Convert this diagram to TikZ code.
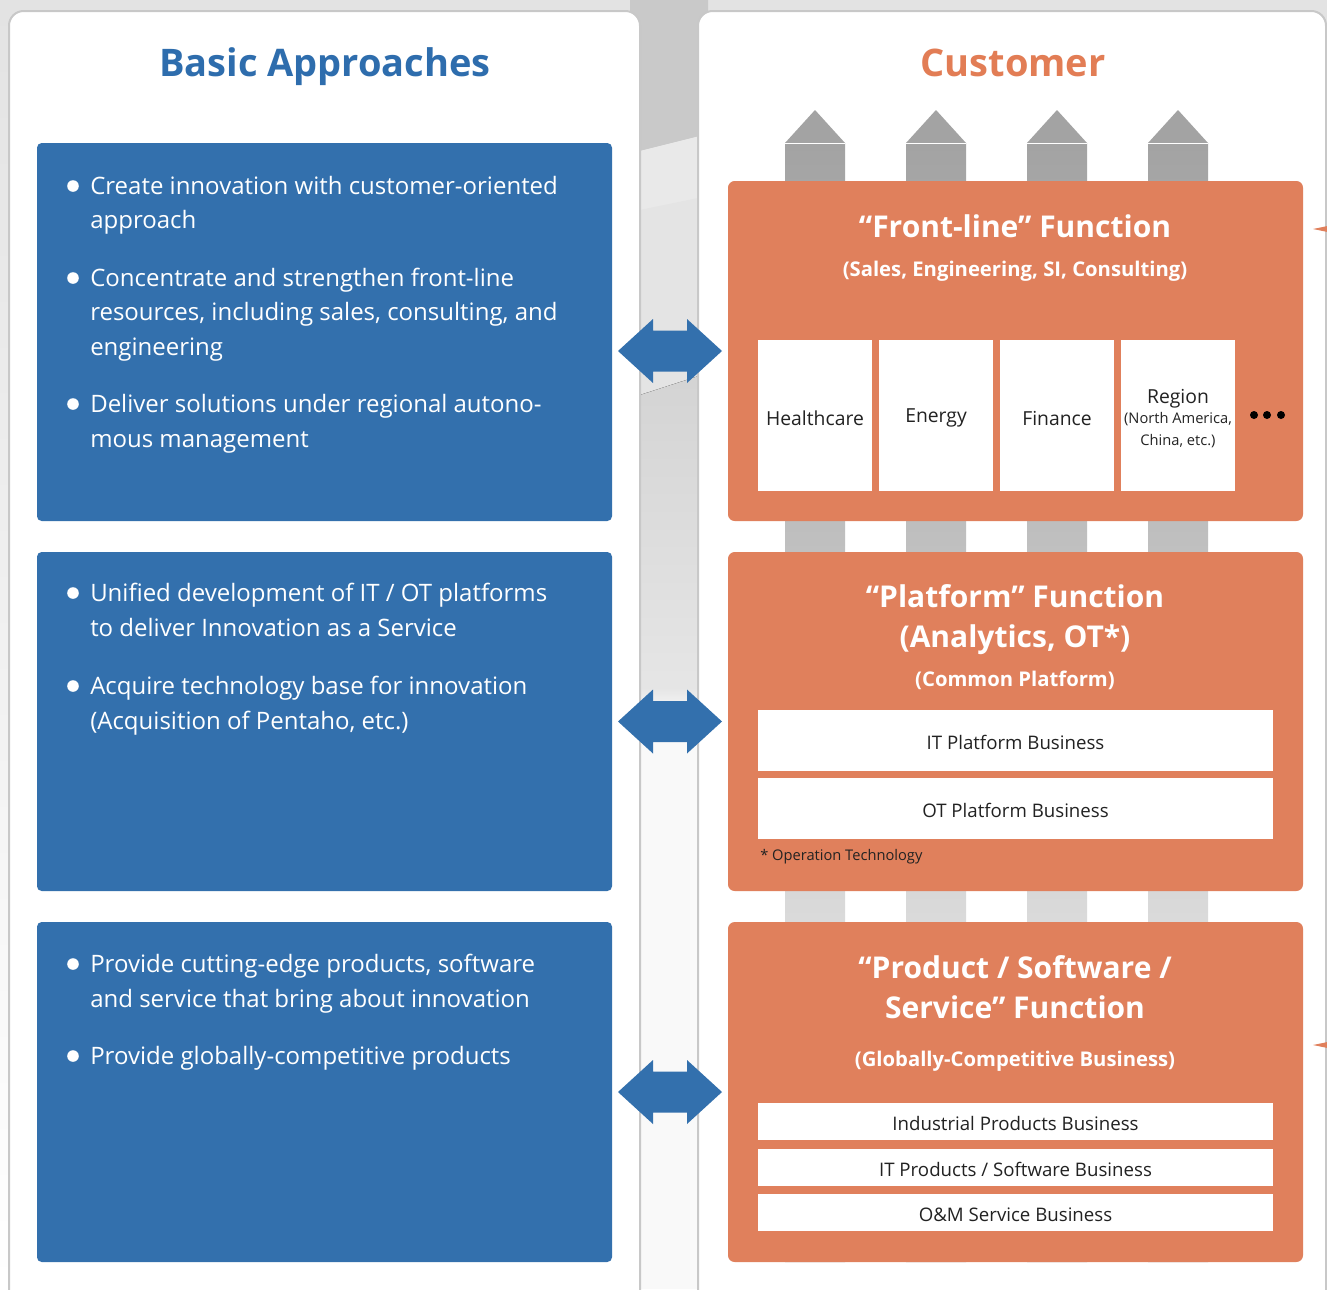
\documentclass[tikz,border=0pt]{standalone}
\usepackage{fontspec}
\setmainfont{Open Sans}
\usetikzlibrary{calc}
\definecolor{cblue}{HTML}{3370AD}
\definecolor{corange}{HTML}{E0805C}
\definecolor{ctblue}{HTML}{2E6DAD}
\definecolor{ctorange}{HTML}{E27D55}
\definecolor{chead}{HTML}{A3A3A3}
\definecolor{cdark}{HTML}{222222}
\definecolor{cpanel}{HTML}{C8C8C8}
\tikzset{
  bluebox/.style={fill=cblue, rounded corners=3.5pt, inner sep=0pt, minimum width=431.25pt},
  orbox/.style={fill=corange, rounded corners=5pt, inner sep=0pt, minimum width=431.25pt},
  tile/.style={fill=white, inner sep=0pt, minimum width=85.5pt, minimum height=113.25pt},
  tiletext/.style={text=cdark, font=\fontsize{14.5}{17}\selectfont, align=center, inner sep=0pt},
  bar/.style={fill=white, inner sep=0pt, minimum width=386.25pt},
  bartext/.style={text=cdark, font=\fontsize{14}{17}\selectfont, inner sep=0pt},
  body/.style={text=white, font=\fontsize{18}{21}\selectfont, anchor=base west, inner sep=0pt},
  otitle/.style={text=white, font=\bfseries\fontsize{22.5}{26}\selectfont, anchor=base, inner sep=0pt},
  osub/.style={text=white, font=\bfseries\fontsize{15.2}{18}\selectfont, anchor=base, inner sep=0pt},
  bigtitle/.style={font=\bfseries\fontsize{28.5}{34}\selectfont, anchor=base, inner sep=0pt},
  dblarrow/.style={fill=cblue},
  bulletdot/.style={fill=white},
  panel/.style={fill=white, draw=cpanel, line width=1.5pt, rounded corners=11pt},
}
\newcommand\smalltile{\fontsize{11}{16.5}\selectfont}
\newcommand\headarrow[1]{%
  \fill[top color=chead, bottom color=white!95!black] (#1-30,143) rectangle (#1+30,1262);
  \fill[chead] (#1-30,143) -- (#1,110) -- (#1+30,143) -- cycle;
  \draw[white, line width=0.75pt] (#1-30,143) -- (#1+30,143);}
\newcommand\fatarrow[1]{%
  \fill[dblarrow] (#1) ++(-52,0) -- ++(35,-32) -- ++(0,11.5) -- ++(34,0) -- ++(0,-11.5)
    -- ++(35,32) -- ++(-35,32) -- ++(0,-11.5) -- ++(-34,0) -- ++(0,11.5) -- cycle;}
\begin{document}
\begin{tikzpicture}[x=0.75pt,y=-0.75pt]
\useasboundingbox (0,0) rectangle (1327,1289);
\clip (0,0) rectangle (1327,1289);
% backdrop
\fill[top color=black!11, bottom color=white] (0,0) rectangle (1327,1289);
% central channel between the two panels
\fill[black!21] (630,0) -- (708,0) -- (708,134) -- (640,151) -- (630,151) -- cycle;
\fill[black!8.5] (630,151) -- (640,151) -- (708,134) -- (708,373) -- (640,395) -- (630,395) -- cycle;
\fill[black!10.5] (630,212) -- (708,196) -- (708,373) -- (640,395) -- (630,395) -- cycle;
\fill[top color=black!17, bottom color=black!10] (630,395) -- (640,395) -- (708,373) -- (708,688) -- (630,688) -- cycle;
\fill[top color=black!10, bottom color=black!2.5] (630,688) rectangle (708,712);
\fill[black!2.5] (630,712) rectangle (708,1289);
% panels
\draw[panel] (9,11) rectangle (640,1320);
\draw[panel] (698,11) rectangle (1326,1320);
\node[bigtitle, text=ctblue] (tleft) at (325,76) {Basic Approaches};
\node[bigtitle, text=ctorange] (tright) at (1013,76) {Customer};
% upward customer arrows
\headarrow{815}\headarrow{936}\headarrow{1057}\headarrow{1178}
% blue boxes
\node[bluebox, minimum height=283.5pt] (b1) at (324.5,332) {};
\node[bluebox, minimum height=254.25pt] (b2) at (324.5,721.5) {};
\node[bluebox, minimum height=255pt] (b3) at (324.5,1092) {};
% orange boxes
\node[orbox, minimum height=255pt] (o1) at (1015.5,351) {};
\node[orbox, minimum height=254.25pt] (o2) at (1015.5,721.5) {};
\node[orbox, minimum height=255pt] (o3) at (1015.5,1092) {};
% bullets
\foreach \yy in {186,278,404,593,686,964,1056}
  \fill[bulletdot] (73,\yy) circle (5.8);
% body text, box 1
\node[body] (l1a) at (90,194) {Create innovation with customer-oriented};
\node[body] (l1b) at (90,228) {approach};
\node[body] (l2a) at (90,286) {Concentrate and strengthen front-line};
\node[body] (l2b) at (90,320) {resources, including sales, consulting, and};
\node[body] (l2c) at (90,355) {engineering};
\node[body] (l3a) at (90,412) {Deliver solutions under regional autono-};
\node[body] (l3b) at (90,447) {mous management};
% body text, box 2
\node[body] (l4a) at (90,601) {Unified development of IT / OT platforms};
\node[body] (l4b) at (90,636) {to deliver Innovation as a Service};
\node[body] (l5a) at (90,694) {Acquire technology base for innovation};
\node[body] (l5b) at (90,729) {(Acquisition of Pentaho, etc.)};
% body text, box 3
\node[body] (l6a) at (90,972) {Provide cutting-edge products, software};
\node[body] (l6b) at (90,1007) {and service that bring about innovation};
\node[body] (l7a) at (90,1064) {Provide globally-competitive products};
% front-line function
\node[otitle] (f1) at (1015,237) {“Front-line” Function};
\node[osub] (f2) at (1015,276) {(Sales, Engineering, SI, Consulting)};
\node[tile, label={[tiletext, yshift=-2pt]center:Healthcare}] (t1) at (815,415.5) {};
\node[tile, label={[tiletext, yshift=-2pt]center:Energy}] (t2) at (936,415.5) {};
\node[tile, label={[tiletext, yshift=-2pt]center:Finance}] (t3) at (1057,415.5) {};
\node[tile, label={[tiletext, yshift=-2.3pt]center:Region\\[-2pt]{\smalltile (North America,}\\{\smalltile China, etc.)}}] (t4) at (1178,415.5) {};
\foreach \xx in {1254,1267,1281} \fill[black] (\xx,415) circle (4);
% platform function
\node[otitle] (p1) at (1015,607) {“Platform” Function};
\node[otitle] (p2) at (1015,647) {(Analytics, OT*)};
\node[osub] (p3) at (1015,686) {(Common Platform)};
\node[bar, minimum height=45.75pt, label={[bartext, yshift=-1.5pt]center:IT Platform Business}] (pb1) at (1015.5,740.5) {};
\node[bar, minimum height=45.75pt, label={[bartext, yshift=-1.5pt]center:OT Platform Business}] (pb2) at (1015.5,808.5) {};
\node[text=cdark, font=\fontsize{11}{13}\selectfont, anchor=base west, inner sep=0pt] (fn) at (760,860) {* Operation Technology};
% product / software / service function
\node[otitle] (s1) at (1015,978) {“Product / Software /};
\node[otitle] (s2) at (1015,1018) {Service” Function};
\node[osub] (s3) at (1015,1066) {(Globally-Competitive Business)};
\node[bar, minimum height=27.75pt, label={[bartext, yshift=-1.5pt]center:Industrial Products Business}] (sb1) at (1015.5,1121.5) {};
\node[bar, minimum height=27.75pt, label={[bartext, yshift=-1.5pt]center:IT Products / Software Business}] (sb2) at (1015.5,1167.5) {};
\node[bar, minimum height=27.75pt, label={[bartext, yshift=-1.5pt]center:O\&M Service Business}] (sb3) at (1015.5,1212.5) {};
% two-way links between approaches and functions
\coordinate (m1) at ($(b1.east |- o1.west)!0.5!(o1.west)$);
\coordinate (m2) at ($(b2.east)!0.5!(o2.west)$);
\coordinate (m3) at ($(b3.east)!0.5!(o3.west)$);
\fatarrow{m1}\fatarrow{m2}\fatarrow{m3}
% incoming pointers at the right edge
\fill[corange] (1313,229) -- (1330,225.5) -- (1330,232.5) -- cycle;
\fill[corange] (1313,1045) -- (1330,1041.5) -- (1330,1048.5) -- cycle;
\end{tikzpicture}
\end{document}
